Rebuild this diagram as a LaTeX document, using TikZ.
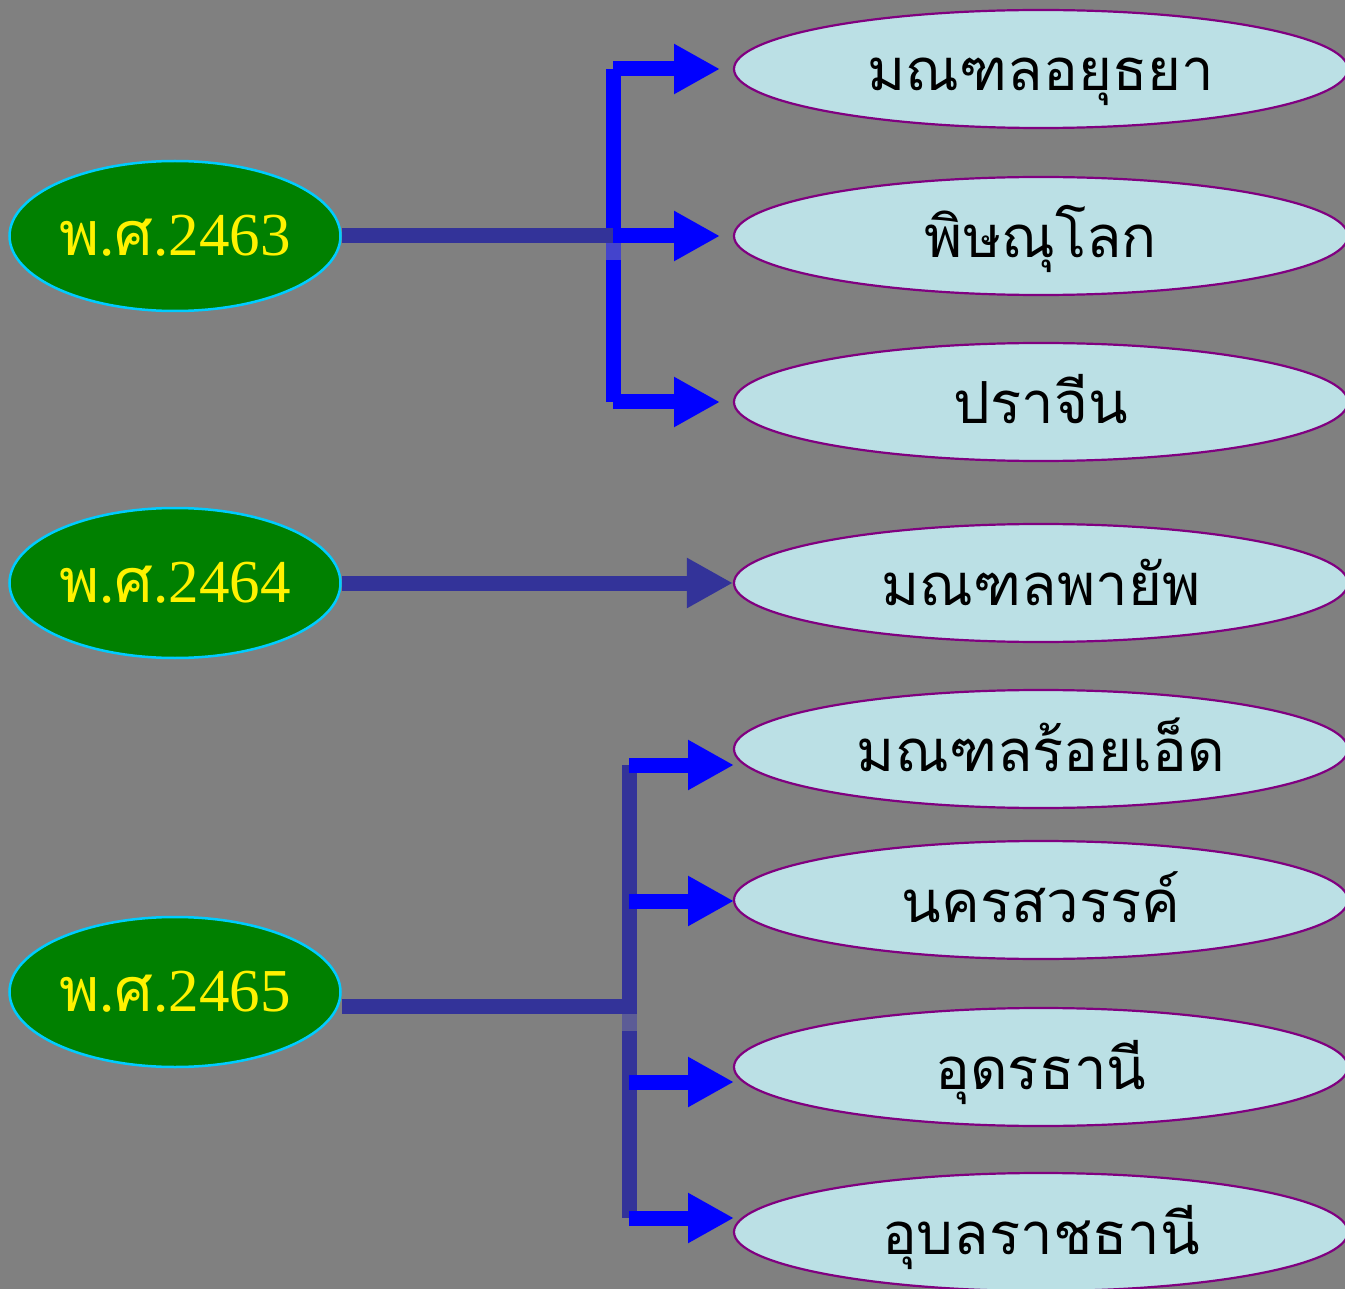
\documentclass[tikz,border=0pt]{standalone}
\usepackage{fontspec}
\setmainfont{Liberation Serif}
\newfontfamily\thai[Script=Thai]{Loma}
\usetikzlibrary{shapes.geometric,arrows.meta}
\definecolor{bggray}{RGB}{128,128,128}
\definecolor{darkgreen}{RGB}{0,128,0}
\definecolor{cyanedge}{RGB}{0,204,255}
\definecolor{lightblue}{RGB}{187,224,229}
\definecolor{purpleedge}{RGB}{128,0,128}
\definecolor{darkline}{RGB}{51,51,153}
\definecolor{pureblue}{RGB}{0,0,255}
\definecolor{gapone}{RGB}{68,68,204}
\definecolor{gaptwo}{RGB}{92,92,150}
\tikzset{
  yearnode/.style={ellipse, draw=cyanedge, fill=darkgreen, line width=2.5pt, minimum width=331pt, minimum height=150pt, inner sep=0pt, text=yellow, font=\fontsize{61}{70}\selectfont},
  provnode/.style={ellipse, draw=purpleedge, fill=lightblue, line width=2.2pt, minimum width=614pt, minimum height=118pt, inner sep=0pt, text=black, text height=44pt, text depth=0pt, font=\thai\fontsize{58}{66}\selectfont},
  trunk/.style={draw=darkline, line width=15pt, line cap=butt},
  bluetrunk/.style={draw=pureblue, line width=15pt, line cap=butt},
  bluebranch/.style={draw=pureblue, line width=15pt, line cap=butt, -{Triangle[length=46pt,width=47pt]}},
  darkbranch/.style={draw=darkline, line width=15pt, line cap=butt, -{Triangle[length=46pt,width=47pt]}},
}
\begin{document}
\begin{tikzpicture}[x=1pt,y=-1pt]
\clip (0,0) rectangle (1345,1289);
\fill[bggray] (0,0) rectangle (1345,1289);
% year nodes
\node[yearnode] (y63) at (175,236) {{\thai พ}.{\thai ศ}.2463};
\node[yearnode] (y64) at (175,583) {{\thai พ}.{\thai ศ}.2464};
\node[yearnode] (y65) at (175,992) {{\thai พ}.{\thai ศ}.2465};
% province nodes
\node[provnode] (p1) at (1041,69) {มณฑลอยุธยา};
\node[provnode] (p2) at (1041,236) {พิษณุโลก};
\node[provnode] (p3) at (1041,402) {ปราจีน};
\node[provnode] (p4) at (1041,583) {มณฑลพายัพ};
\node[provnode] (p5) at (1041,749) {มณฑลร้อยเอ็ด};
\node[provnode] (p6) at (1041,900) {นครสวรรค์};
\node[provnode] (p7) at (1041,1067) {อุดรธานี};
\node[provnode] (p8) at (1041,1232) {อุบลราชธานี};
% group 1 junction coordinates
\coordinate (a1) at (613,69);
\coordinate (a2) at (613,236);
\coordinate (a3) at (613,402);
\coordinate (t1) at (720,69);
\coordinate (t2) at (720,236);
\coordinate (t3) at (720,402);
\draw[bluetrunk] (a1) -- (a3);
\fill[gapone] (605.5,243.5) rectangle (620.5,260);
\draw[trunk] (y63.east) -- (a2);
\draw[bluebranch] (a1) -- (t1);
\draw[bluebranch] (a2) -- (t2);
\draw[bluebranch] (a3) -- (t3);
% group 2
\draw[darkbranch] (y64.east) -- (p4.west);
% group 3
\coordinate (c0) at (629,1006);
\coordinate (c1) at (629,765);
\coordinate (c2) at (629,901);
\coordinate (c3) at (629,1082);
\coordinate (c4) at (629,1218);
\coordinate (u1) at (734,765);
\coordinate (u2) at (734,901);
\coordinate (u3) at (734,1082);
\coordinate (u4) at (734,1218);
\draw[trunk] (c1) -- (c4);
\fill[gaptwo] (621.5,1013.5) rectangle (636.5,1031);
\draw[trunk] (y65.east |- c0) -- (c0);
\draw[bluebranch] (c1) -- (u1);
\draw[bluebranch] (c2) -- (u2);
\draw[bluebranch] (c3) -- (u3);
\draw[bluebranch] (c4) -- (u4);
\end{tikzpicture}
\end{document}
